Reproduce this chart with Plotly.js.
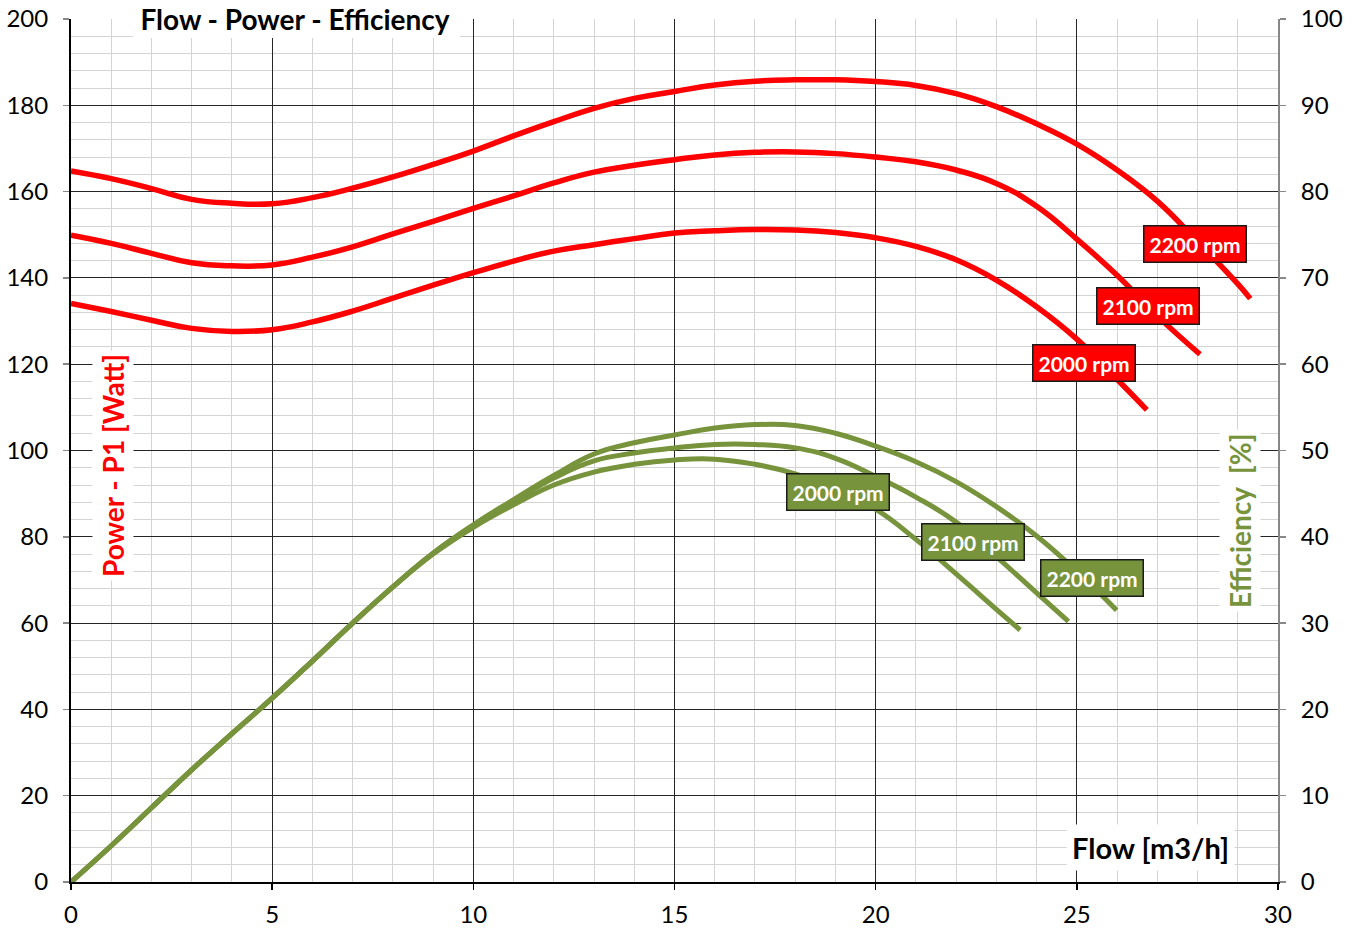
<!DOCTYPE html>
<html>
<head>
<meta charset="utf-8">
<script src="https://cdn.plot.ly/plotly-3.0.1.min.js"></script>
<style>
  html, body { margin: 0; padding: 0; background: #fff; }
  #chart { width: 1357px; height: 928px; }
</style>
</head>
<body>
<div id="chart"></div>
<script>
// ---- Power P1 [Watt] vs Flow [m3/h] (left axis) ----
const flowP2200 = [0,1,2,3,4,5,6,7,8,9,10,11,12,13,14,15,16,17,18,19,20,21,22,23,24,25,26,27,28,29,29.31];
const power2200 = [164.8,163.0,160.7,158.2,157.3,157.2,158.6,160.8,163.4,166.3,169.4,172.9,176.2,179.3,181.6,183.2,184.7,185.6,185.9,185.9,185.5,184.6,182.7,179.7,175.7,171.0,165.0,157.8,148.4,138.6,135.2];

const flowP2100 = [0,1,2,3,4,5,6,7,8,9,10,11,12,13,14,15,16,17,18,19,20,21,22,23,24,25,26,27,28.06];
const power2100 = [149.9,148.0,145.7,143.5,142.8,143.0,144.8,147.2,150.2,153.1,156.1,159.0,162.0,164.5,166.1,167.4,168.5,169.1,169.2,168.8,168.0,166.9,165.0,161.9,156.6,149.0,140.6,131.2,122.3];

const flowP2000 = [0,1,2,3,4,5,6,7,8,9,10,11,12,13,14,15,16,17,18,19,20,21,22,23,24,25,26,26.74];
const power2000 = [134.1,132.2,130.2,128.3,127.6,128.0,129.8,132.3,135.3,138.3,141.2,143.9,146.2,147.7,149.1,150.4,150.9,151.2,151.1,150.5,149.3,147.3,144.2,139.5,133.3,125.8,116.5,109.4];

// ---- Efficiency [%] vs Flow [m3/h] (right axis) ----
const flowE2200 = [0,1,2,3,4,5,6,7,8,9,10,11,12,13,14,15,16,17,18,19,20,21,22,23,24,25,25.99];
const eff2200   = [0,4.2,8.6,13.0,17.2,21.3,25.6,30.0,34.2,38.1,41.4,44.3,47.1,49.6,50.9,51.8,52.6,53.0,52.9,52.0,50.5,48.7,46.4,43.5,40.1,36.0,31.5];

const flowE2100 = [0,1,2,3,4,5,6,7,8,9,10,11,12,13,14,15,16,17,18,19,20,21,22,23,24,24.79];
const eff2100   = [0,4.2,8.6,13.0,17.2,21.3,25.6,30.0,34.2,38.1,41.3,44.1,46.8,48.8,49.7,50.3,50.7,50.7,50.3,49.1,47.0,44.6,41.7,37.7,33.5,30.2];

const flowE2000 = [0,1,2,3,4,5,6,7,8,9,10,11,12,13,14,15,16,17,18,19,20,21,22,23,23.59];
const eff2000   = [0,4.2,8.6,13.0,17.2,21.3,25.6,30.0,34.2,38.0,41.1,43.7,46.0,47.5,48.4,48.9,49.0,48.4,47.3,45.6,43.2,39.7,35.7,31.6,29.2];

// ---- labels ----
const speedLabels = ['2000 rpm','2100 rpm','2200 rpm'];
const chartTitle = 'Flow - Power - Efficiency';
const xTitle = 'Flow [m3/h]';
const yTitle = 'Power - P1 [Watt]';
const y2Title = 'Efficiency  [%]';

const RED = '#FF0000';
const GREEN = '#77933C';
const FONT = 'Lato, "Open Sans", sans-serif';

function redTrace(x, y, name) {
  return {x: x, y: y, name: name, type: 'scatter', mode: 'lines', yaxis: 'y', xaxis: 'x',
          line: {color: RED, width: 5.5, shape: 'spline', smoothing: 1.3}, hoverinfo: 'x+y'};
}
function greenTrace(x, y, name) {
  return {x: x, y: y, name: name, type: 'scatter', mode: 'lines', yaxis: 'y2', xaxis: 'x',
          line: {color: GREEN, width: 5, shape: 'spline', smoothing: 1.3}, hoverinfo: 'x+y'};
}

const data = [
  redTrace(flowP2000, power2000, 'P1 ' + speedLabels[0]),
  redTrace(flowP2100, power2100, 'P1 ' + speedLabels[1]),
  redTrace(flowP2200, power2200, 'P1 ' + speedLabels[2]),
  greenTrace(flowE2000, eff2000, 'Eff ' + speedLabels[0]),
  greenTrace(flowE2100, eff2100, 'Eff ' + speedLabels[1]),
  greenTrace(flowE2200, eff2200, 'Eff ' + speedLabels[2])
];

function rpmLabel(text, x, y, yref, bg) {
  return {text: '<b>' + text + '</b>', x: x, y: y, xref: 'x', yref: yref, showarrow: false,
          xanchor: 'center', yanchor: 'middle',
          font: {family: FONT, size: 21, color: '#FFFFFF'},
          bgcolor: bg, bordercolor: '#1a1a1a', borderwidth: 1.5, borderpad: 5};
}

const tickFont = {family: FONT, size: 24, color: '#000'};

const layout = {
  width: 1357, height: 928,
  margin: {l: 71, r: 79, t: 19, b: 46, pad: 0},
  paper_bgcolor: '#FFFFFF', plot_bgcolor: '#FFFFFF',
  showlegend: false,
  title: {text: '<b>' + chartTitle + '</b>', font: {family: FONT, size: 28, color: '#000'},
          xref: 'paper', x: 0.1856, xanchor: 'center', yref: 'container', y: 0.978, yanchor: 'middle'},
  xaxis: {
    range: [0, 30], tick0: 0, dtick: 5, showgrid: true, gridcolor: '#262626', gridwidth: 1,
    minor: {dtick: 1, showgrid: true, gridcolor: '#d4d4d4', gridwidth: 1},
    zeroline: false, showline: true, linecolor: '#000', linewidth: 2,
    ticks: 'outside', ticklen: 6, tickcolor: '#000', tickwidth: 1.5,
    tickfont: tickFont, ticklabelstandoff: 4
  },
  yaxis: {
    range: [0, 200], tick0: 0, dtick: 20, showgrid: true, gridcolor: '#262626', gridwidth: 1,
    minor: {dtick: 4, showgrid: true, gridcolor: '#d4d4d4', gridwidth: 1},
    zeroline: false, showline: true, linecolor: '#000', linewidth: 2,
    ticks: 'outside', ticklen: 6, tickcolor: '#888', tickwidth: 1.5,
    tickfont: tickFont, ticklabelstandoff: 10
  },
  yaxis2: {
    range: [0, 100], tick0: 0, dtick: 10, overlaying: 'y', side: 'right', anchor: 'x',
    showgrid: false, zeroline: false, showline: true, linecolor: '#888', linewidth: 2,
    ticks: 'outside', ticklen: 6, tickcolor: '#888', tickwidth: 1.5,
    tickfont: tickFont, ticklabelstandoff: 10
  },
  shapes: [
    {type: 'rect', xref: 'paper', yref: 'paper', x0: 0.0514, x1: 0.3223, y0: 0.978, y1: 1.03,
     fillcolor: '#FFFFFF', line: {width: 0}, layer: 'above'}
  ],
  annotations: [
    {text: '<b>' + yTitle + '</b>', xref: 'paper', yref: 'paper', x: 0.0348, y: 0.482,
     textangle: -90, showarrow: false, xanchor: 'center', yanchor: 'middle',
     font: {family: FONT, size: 28, color: RED}, bgcolor: '#FFFFFF', borderpad: 3},
    {text: '<b>' + y2Title + '</b>', xref: 'paper', yref: 'paper', x: 0.9685, y: 0.4195,
     textangle: -90, showarrow: false, xanchor: 'center', yanchor: 'middle',
     font: {family: FONT, size: 28, color: GREEN}, bgcolor: '#FFFFFF', borderpad: 3},
    {text: '<b>' + xTitle + '</b>', xref: 'paper', yref: 'paper', x: 0.894, y: 0.0394,
     showarrow: false, xanchor: 'center', yanchor: 'middle',
     font: {family: FONT, size: 29, color: '#000'}, bgcolor: '#FFFFFF', borderpad: 5},
    rpmLabel(speedLabels[2], 27.94, 147.9, 'y', RED),
    rpmLabel(speedLabels[1], 26.77, 133.5, 'y', RED),
    rpmLabel(speedLabels[0], 25.18, 120.3, 'y', RED),
    rpmLabel(speedLabels[0], 19.07, 45.2, 'y2', GREEN),
    rpmLabel(speedLabels[1], 22.42, 39.4, 'y2', GREEN),
    rpmLabel(speedLabels[2], 25.38, 35.2, 'y2', GREEN)
  ]
};

Plotly.newPlot('chart', data, layout, {displayModeBar: false, staticPlot: true});
</script>
</body>
</html>
